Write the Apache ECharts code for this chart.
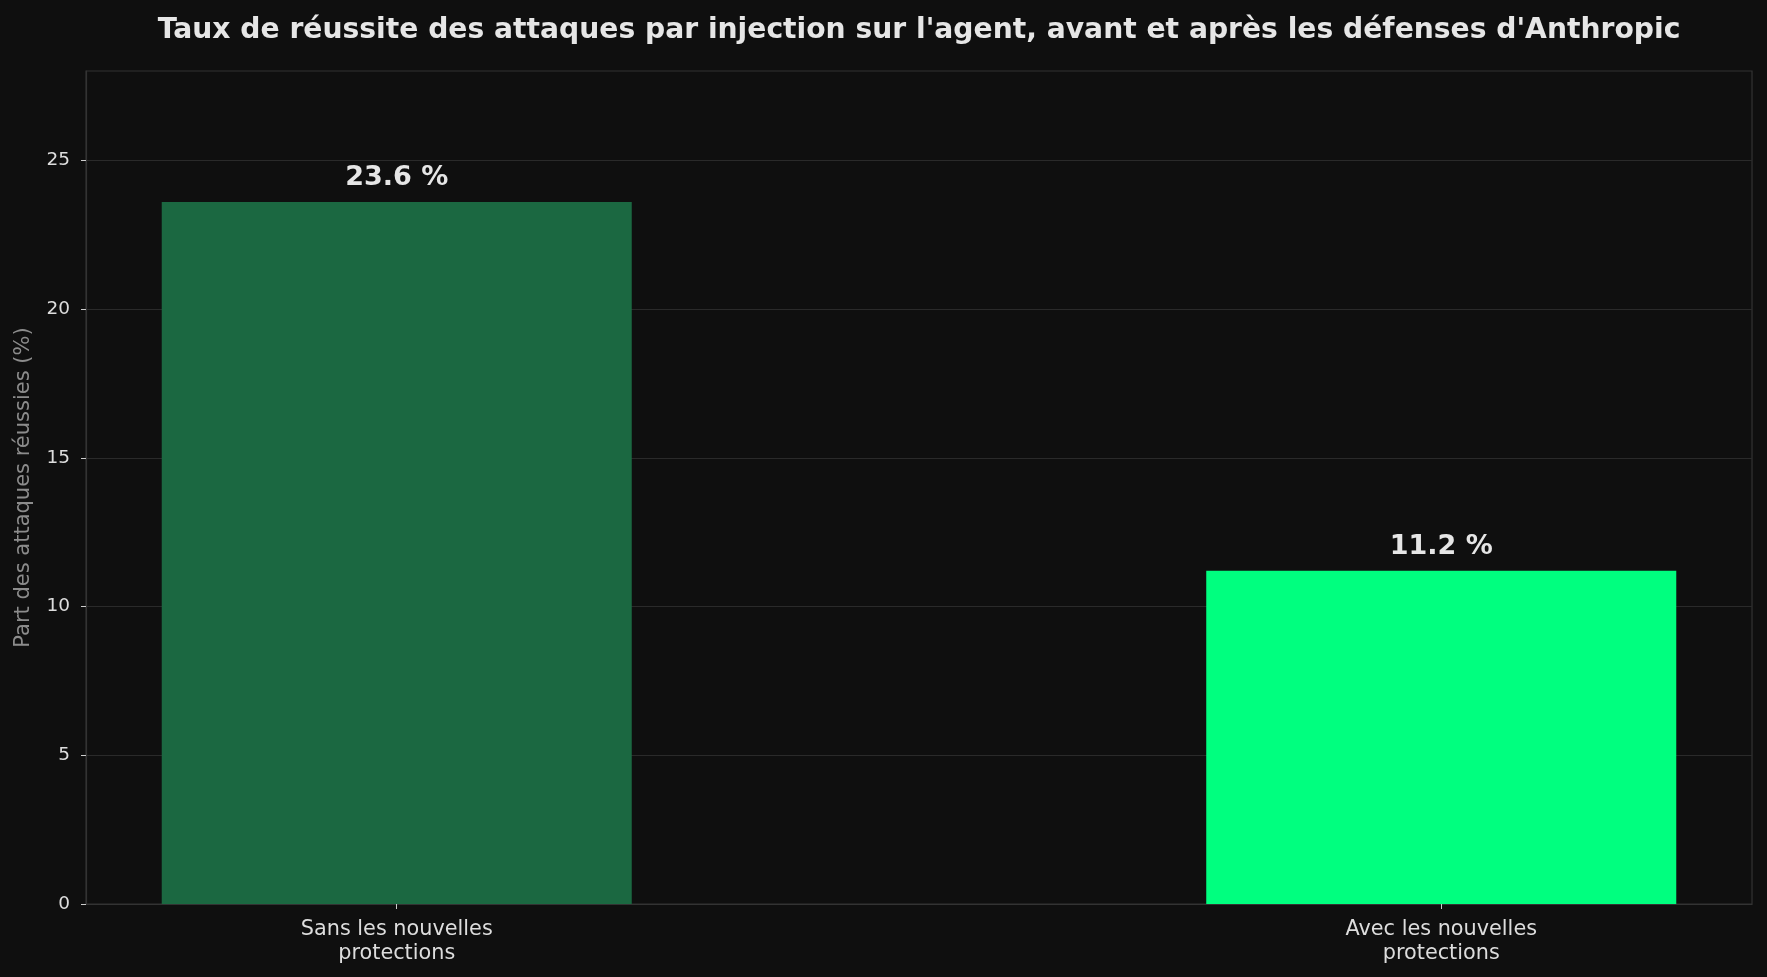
<!DOCTYPE html>
<html>
<head>
<meta charset="utf-8">
<script src="https://cdn.jsdelivr.net/npm/echarts@6/dist/echarts.min.js"></script>
<style>
html,body{margin:0;padding:0;background:#0f0f0f;}
#c{width:1767px;height:977px;}
</style>
</head>
<body>
<div id="c"></div>
<script>
const categories = ["Sans les nouvelles\nprotections", "Avec les nouvelles\nprotections"];
const values = [23.6, 11.2];
const yTicks = [0, 5, 10, 15, 20, 25];
const titleText = "Taux de réussite des attaques par injection sur l'agent, avant et après les défenses d'Anthropic";
const yAxisName = "Part des attaques réussies (%)";

const barColors = ["#1b6841", "#00ff7f"];
const W = 1767, H = 977;
const gridL = 86, gridR = 15, gridT = 71, gridB = 73;
const xMin = -0.2975, xMax = 1.2975, barFrac = 0.45;
const barPx = (W - gridL - gridR) / (xMax - xMin) * barFrac;

const chart = echarts.init(document.getElementById('c'), null, {renderer: 'canvas', width: W, height: H});
chart.setOption({
  backgroundColor: '#0f0f0f',
  animation: false,
  textStyle: {fontFamily: 'DejaVu Sans'},
  title: {
    text: titleText,
    left: gridL + (W - gridL - gridR) / 2 - 5,
    textAlign: 'center',
    top: 12,
    textStyle: {color: '#e6e6e6', fontSize: 28.2, fontWeight: 'bold', fontFamily: 'DejaVu Sans'}
  },
  grid: {left: gridL, right: gridR, top: gridT, bottom: gridB, show: true, borderColor: '#333333', borderWidth: 1.2, containLabel: false},
  xAxis: {
    type: 'value', min: xMin, max: xMax,
    splitLine: {show: false},
    axisLine: {show: true, onZero: false, lineStyle: {color: '#333333', width: 1.2}},
    axisTick: {show: true, customValues: [0, 1], length: 5, lineStyle: {color: '#cccccc'}},
    axisLabel: {
      customValues: [0, 1],
      formatter: v => categories[Math.round(v)],
      color: '#dddddd', fontSize: 20.8, lineHeight: 23.5, margin: 14, fontFamily: 'DejaVu Sans'
    }
  },
  yAxis: {
    type: 'value', min: 0, max: 28,
    name: yAxisName, nameLocation: 'middle', nameGap: 52,
    nameTextStyle: {color: '#8c8c8c', fontSize: 21, fontFamily: 'DejaVu Sans'},
    splitLine: {show: true, lineStyle: {color: '#2a2a2a', width: 1.2}},
    axisLine: {show: true, onZero: false, lineStyle: {color: '#333333', width: 1.2}},
    axisTick: {show: true, customValues: yTicks, length: 5, lineStyle: {color: '#cccccc'}},
    axisLabel: {customValues: yTicks, color: '#dddddd', fontSize: 18.5, margin: 16, fontFamily: 'DejaVu Sans'}
  },
  series: [{
    type: 'bar',
    barWidth: barPx,
    data: values.map((v, i) => ({value: [i, v], itemStyle: {color: barColors[i]}})),
    label: {
      show: true, position: 'top', distance: 10,
      formatter: p => p.value[1].toFixed(1) + ' %',
      color: '#e6e6e6', fontSize: 27, fontWeight: 'bold', fontFamily: 'DejaVu Sans'
    }
  }]
});
</script>
</body>
</html>
